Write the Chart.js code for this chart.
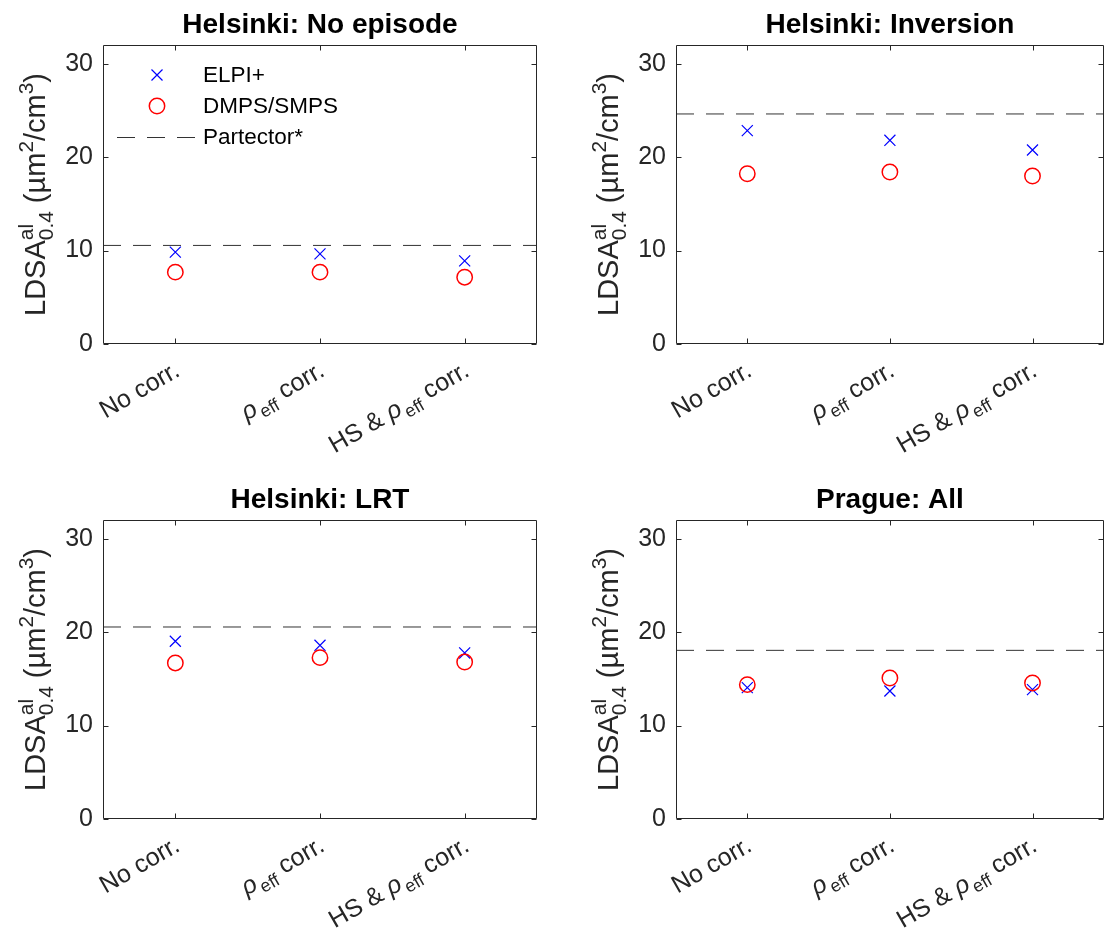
<!DOCTYPE html>
<html>
<head>
<meta charset="utf-8">
<script src="https://cdn.jsdelivr.net/npm/chart.js@4.4.1/dist/chart.umd.min.js"></script>
<style>
  html, body { margin: 0; padding: 0; background: #ffffff; }
  #wrap { position: relative; width: 1113px; height: 938px; background: #ffffff; }
  #wrap canvas { position: absolute; }
</style>
</head>
<body>
<div id="wrap">
  <canvas id="c0" width="556" height="470" style="left:0px;top:0px"></canvas>
  <canvas id="c1" width="557" height="470" style="left:556px;top:0px"></canvas>
  <canvas id="c2" width="556" height="468" style="left:0px;top:470px"></canvas>
  <canvas id="c3" width="557" height="468" style="left:556px;top:470px"></canvas>
</div>
<script>
// ---- data ----
const categories = ['No corr.', '\\rho_{eff} corr.', 'HS & \\rho_{eff} corr.'];
const yTicks = [0, 10, 20, 30];
const yLabel = 'LDSA^{al}_{0.4} (\\mum^{2}/cm^{3})';
const legendLabels = ['ELPI+', 'DMPS/SMPS', 'Partector*'];
const panelTitles = ['Helsinki: No episode', 'Helsinki: Inversion', 'Helsinki: LRT', 'Prague: All'];

const elpiNoEpisode = [9.83, 9.65, 8.90];
const dmpsNoEpisode = [7.69, 7.69, 7.15];
const partectorNoEpisode = 10.55;

const elpiInversion = [22.83, 21.80, 20.76];
const dmpsInversion = [18.22, 18.41, 17.98];
const partectorInversion = 24.62;

const elpiLRT = [19.02, 18.59, 17.77];
const dmpsLRT = [16.70, 17.27, 16.80];
const partectorLRT = 20.55;

const elpiPrague = [14.06, 13.70, 13.84];
const dmpsPrague = [14.38, 15.09, 14.56];
const partectorPrague = 18.05;

// ---- appearance ----
const FONT = "'Liberation Sans', Arial, Helvetica, sans-serif";
const TEXT = '#262626';
const X_MIN = 0.5, X_MAX = 3.5, Y_MIN = 0, Y_MAX = 32;

// tiny TeX-like parser: \rho, \mu, _{..}, ^{..}
function parseTex(str) {
  const out = [];
  let buf = '';
  let i = 0;
  const flush = () => { if (buf) { out.push({ t: buf, mode: 'n' }); buf = ''; } };
  while (i < str.length) {
    const c = str[i];
    if (c === '\\') {
      const m = /^\\(rho|mu)/.exec(str.slice(i));
      if (!m) { buf += c; i++; continue; }
      i += m[0].length;
      if (m[1] === 'rho') { flush(); out.push({ t: '\u03c1', mode: 'n', italic: true }); }
      else { buf += '\u00b5'; }
    } else if ((c === '_' || c === '^') && str[i + 1] === '{') {
      flush();
      const end = str.indexOf('}', i);
      const seg = { t: str.slice(i + 2, end), mode: c === '_' ? 'sub' : 'sup' };
      const prev = out[out.length - 1];
      if (prev && prev.mode !== 'n' && prev.mode !== seg.mode) seg.stack = true;
      out.push(seg);
      i = end + 1;
    } else { buf += c; i++; }
  }
  flush();
  return out;
}

function segFont(seg, size) {
  const s = seg.mode === 'n' ? size : size * 0.72;
  return (seg.italic ? 'italic ' : '') + s.toFixed(2) + 'px ' + FONT;
}

// lay out and draw rich text; (x, y) is the alphabetic baseline anchor
function drawRich(ctx, str, size, x, y, align, color) {
  const segs = parseTex(str);
  let pos = 0, prevStart = 0, prevW = 0;
  const placed = [];
  segs.forEach(seg => {
    ctx.font = segFont(seg, size);
    let w = ctx.measureText(seg.t).width;
    if (seg.italic) w += size * 0.08;
    let start;
    if (seg.stack) {
      start = prevStart;
      pos = prevStart + Math.max(prevW, w);
    } else {
      start = pos;
      pos += w;
    }
    const dy = seg.mode === 'sup' ? -size * 0.42 : seg.mode === 'sub' ? size * 0.26 : 0;
    placed.push({ seg, start, dy });
    prevStart = start; prevW = w;
  });
  const total = pos;
  const x0 = align === 'right' ? x - total : align === 'center' ? x - total / 2 : x;
  ctx.fillStyle = color;
  ctx.textAlign = 'left';
  ctx.textBaseline = 'alphabetic';
  placed.forEach(p => {
    ctx.font = segFont(p.seg, size);
    ctx.fillText(p.seg.t, x0 + p.start, y + p.dy);
  });
}

function drawCross(ctx, x, y, h) {
  ctx.beginPath();
  ctx.moveTo(x - h, y - h); ctx.lineTo(x + h, y + h);
  ctx.moveTo(x - h, y + h); ctx.lineTo(x + h, y - h);
  ctx.stroke();
}

// frame, inward ticks, titles, rotated category labels and legend
const framePlugin = {
  id: 'frame',
  afterDraw(chart, args, opts) {
    const { ctx, chartArea: a } = chart;
    const xs = chart.scales.x, ys = chart.scales.y;
    const L = Math.round(a.left) + 0.5, R = Math.round(a.right) - 0.5;
    const T = Math.round(a.top) + 0.5, B = Math.round(a.bottom) - 0.5;
    ctx.save();
    ctx.strokeStyle = TEXT;
    ctx.lineWidth = 1;
    ctx.setLineDash([]);
    ctx.beginPath();
    ctx.rect(L, T, R - L, B - T);
    yTicks.forEach(v => {
      const py = Math.round(ys.getPixelForValue(v)) + 0.5;
      ctx.moveTo(L, py); ctx.lineTo(L + 5, py);
      ctx.moveTo(R, py); ctx.lineTo(R - 5, py);
    });
    categories.forEach((c, i) => {
      const px = Math.round(xs.getPixelForValue(i + 1)) + 0.5;
      ctx.moveTo(px, B); ctx.lineTo(px, B - 5);
      ctx.moveTo(px, T); ctx.lineTo(px, T + 5);
    });
    ctx.stroke();

    // panel title
    ctx.fillStyle = '#000000';
    ctx.font = 'bold 28px ' + FONT;
    ctx.textAlign = 'center';
    ctx.textBaseline = 'alphabetic';
    ctx.fillText(opts.title, (a.left + a.right) / 2, a.top - 12);

    // y axis title
    ctx.save();
    ctx.translate(a.left - 58, (a.top + a.bottom) / 2);
    ctx.rotate(-Math.PI / 2);
    drawRich(ctx, yLabel, 29, 0, 0, 'center', TEXT);
    ctx.restore();

    // rotated category labels
    categories.forEach((c, i) => {
      const px = xs.getPixelForValue(i + 1);
      ctx.save();
      ctx.translate(px + 6, a.bottom + 31);
      ctx.rotate(-Math.PI / 6);
      drawRich(ctx, c, 25, 0, 0, 'right', TEXT);
      ctx.restore();
    });

    // legend
    if (opts.legend) {
      const mx = a.left + 54, tx = a.left + 100;
      const rows = [a.top + 30, a.top + 61, a.top + 92];
      ctx.strokeStyle = '#0000ff'; ctx.lineWidth = 1.2;
      drawCross(ctx, mx, rows[0], 5.5);
      ctx.strokeStyle = '#ff0000'; ctx.lineWidth = 1.5;
      ctx.beginPath(); ctx.arc(mx, rows[1], 7.7, 0, Math.PI * 2); ctx.stroke();
      ctx.strokeStyle = '#333333'; ctx.lineWidth = 1;
      ctx.setLineDash([18, 12]);
      ctx.beginPath(); ctx.moveTo(a.left + 14, rows[2] + 0.5); ctx.lineTo(a.left + 94, rows[2] + 0.5); ctx.stroke();
      ctx.setLineDash([]);
      ctx.fillStyle = '#000000';
      ctx.font = '22.5px ' + FONT;
      ctx.textAlign = 'left';
      ctx.textBaseline = 'middle';
      legendLabels.forEach((lab, k) => ctx.fillText(lab, tx, rows[k] + 1));
    }
    ctx.restore();
  }
};

const geoms = [
  { top: 45, right: 19, yw: 103, xh: 126 },
  { top: 45, right: 3, yw: 120, xh: 126 },
  { top: 50, right: 19, yw: 103, xh: 119 },
  { top: 50, right: 3, yw: 120, xh: 119 }
];

function makePanel(idx, elpi, dmps, partector) {
  const g = geoms[idx];
  new Chart(document.getElementById('c' + idx), {
    type: 'scatter',
    data: {
      datasets: [
        {
          label: legendLabels[1],
          data: dmps.map((v, i) => ({ x: i + 1, y: v })),
          pointStyle: 'circle', pointRadius: 7.7, pointHoverRadius: 7.7,
          borderColor: '#ff0000', backgroundColor: 'rgba(0,0,0,0)', borderWidth: 1.5,
          order: 1
        },
        {
          label: legendLabels[0],
          data: elpi.map((v, i) => ({ x: i + 1, y: v })),
          pointStyle: 'crossRot', pointRadius: 7.8, pointHoverRadius: 7.8,
          borderColor: '#0000ff', backgroundColor: '#0000ff', borderWidth: 1.2,
          order: 2
        },
        {
          type: 'line',
          label: legendLabels[2],
          data: [{ x: X_MIN, y: partector }, { x: X_MAX, y: partector }],
          borderColor: '#333333', borderWidth: 1, borderDash: [18, 12],
          pointRadius: 0, fill: false, tension: 0,
          order: 3
        }
      ]
    },
    options: {
      responsive: false,
      animation: false,
      devicePixelRatio: 1,
      events: [],
      layout: { padding: { top: g.top, right: g.right, left: 0, bottom: 0 } },
      plugins: {
        legend: { display: false },
        tooltip: { enabled: false },
        frame: { title: panelTitles[idx], legend: idx === 0 }
      },
      scales: {
        x: {
          type: 'linear', min: X_MIN, max: X_MAX,
          grid: { display: false, drawTicks: false },
          border: { display: false },
          ticks: { display: false },
          afterFit(s) { s.height = g.xh; }
        },
        y: {
          type: 'linear', min: Y_MIN, max: Y_MAX,
          grid: { display: false, drawTicks: false },
          border: { display: false },
          ticks: { font: { family: FONT, size: 25 }, color: TEXT, padding: 10 },
          afterBuildTicks(s) { s.ticks = yTicks.map(v => ({ value: v })); },
          afterFit(s) { s.width = g.yw; }
        }
      }
    },
    plugins: [framePlugin]
  });
}

makePanel(0, elpiNoEpisode, dmpsNoEpisode, partectorNoEpisode);
makePanel(1, elpiInversion, dmpsInversion, partectorInversion);
makePanel(2, elpiLRT, dmpsLRT, partectorLRT);
makePanel(3, elpiPrague, dmpsPrague, partectorPrague);
</script>
</body>
</html>
